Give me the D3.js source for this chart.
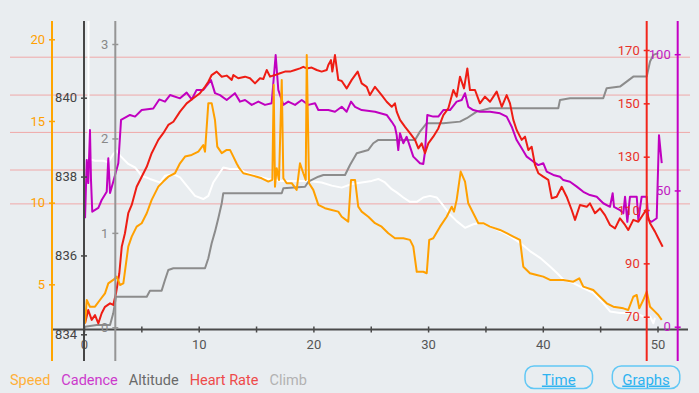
<!DOCTYPE html>
<html><head><meta charset="utf-8">
<script src="https://cdn.jsdelivr.net/npm/d3@7"></script>
<style>
html,body{margin:0;padding:0;background:#e9edf0;}
svg{display:block;font-family:Roboto,"Noto Sans",sans-serif;}
</style></head><body>
<svg id="c" width="699" height="393"></svg>
<script>
// ---- data (time in minutes, value) ----
const speed = [[0.09,2.61],[0.24,4.04],[0.52,3.63],[0.96,3.63],[1.39,4.04],[1.83,4.45],[2.12,5.06],[2.55,5.27],[2.85,5.47],[3.14,4.96],[3.43,5.06],[3.86,7.31],[4.16,7.92],[4.59,8.53],[5.03,8.74],[5.47,9.35],[5.9,10.17],[6.48,10.98],[6.91,11.29],[7.35,11.59],[7.93,11.8],[8.37,12.41],[8.81,12.82],[9.39,12.92],[9.97,13.12],[10.4,13.53],[10.55,13.12],[10.84,16.09],[11.13,16.09],[11.42,15.06],[11.62,13.43],[12.01,13.03],[12.44,13.23],[12.73,13.23],[13.02,12.82],[13.31,12.4],[13.54,12.11],[13.89,11.8],[14.47,11.7],[15.06,11.59],[15.49,11.49],[16.07,11.29],[16.42,11.39],[16.54,17.21],[16.65,10.98],[16.8,12.11],[17.0,11.39],[17.24,17.51],[17.38,11.49],[17.67,11.19],[18.11,11.19],[18.54,10.78],[18.83,12.41],[19.12,11.8],[19.33,11.39],[19.42,19.04],[19.62,11.19],[19.99,10.78],[20.43,9.86],[21.01,9.66],[21.6,9.55],[22.17,9.45],[22.47,9.14],[23.04,8.84],[23.28,11.39],[23.63,11.39],[23.91,9.76],[24.21,9.45],[24.79,9.14],[25.37,8.74],[25.95,8.53],[26.53,8.13],[27.11,7.82],[27.84,7.82],[28.42,7.72],[28.71,7.31],[29.01,5.77],[29.58,5.77],[29.88,5.68],[30.1,7.72],[30.45,7.82],[31.04,8.53],[31.62,9.14],[32.06,9.75],[32.26,9.45],[32.49,10.17],[32.84,11.9],[33.22,11.29],[33.5,9.96],[33.94,9.35],[34.38,8.74],[34.81,8.74],[35.4,8.53],[36.27,8.33],[36.85,8.13],[37.43,7.92],[38.01,7.72],[38.3,6.08],[38.88,5.68],[39.47,5.57],[40.04,5.47],[40.63,5.27],[41.79,5.27],[42.66,5.16],[43.18,5.37],[43.53,4.86],[44.4,4.65],[44.99,4.24],[45.57,3.84],[46.15,3.63],[47.02,3.53],[47.45,3.43],[47.89,4.24],[48.19,4.35],[48.41,3.53],[48.76,4.04],[49.06,4.55],[49.35,3.63],[49.78,3.33],[50.07,3.12],[50.37,2.82]];

const cadence = [[0.09,39.8],[0.24,61.2],[0.37,52.7],[0.52,72.2],[0.61,53.8],[0.72,42.2],[1.25,43.6],[1.54,46.5],[1.98,49.5],[2.12,61.8],[2.27,49.1],[2.55,53.2],[2.99,60.0],[3.23,75.9],[4.01,77.7],[4.45,77.1],[5.03,79.5],[6.04,80.1],[6.56,83.4],[7.06,82.6],[7.5,85.0],[8.37,83.8],[8.95,85.9],[9.39,83.4],[9.82,86.9],[10.4,86.9],[11.07,90.5],[11.42,85.7],[11.86,85.0],[12.44,83.2],[13.16,85.7],[13.6,82.6],[14.04,83.2],[14.62,81.4],[15.2,82.6],[15.78,81.4],[16.36,82.0],[16.71,99.7],[16.94,86.9],[17.38,81.4],[17.81,82.6],[18.4,81.4],[18.98,83.2],[19.56,81.4],[20.14,82.0],[20.43,79.5],[21.3,79.5],[21.88,78.9],[22.47,80.7],[22.9,78.9],[23.28,82.6],[23.63,80.7],[24.21,79.5],[25.37,78.9],[26.39,77.7],[26.83,75.2],[27.11,73.4],[27.26,70.3],[27.4,64.8],[27.55,71.0],[27.84,67.3],[28.13,69.7],[28.42,66.1],[28.71,62.4],[29.29,60.0],[29.58,59.7],[29.73,64.2],[29.93,77.7],[30.45,77.1],[30.89,77.1],[31.33,79.5],[31.91,79.5],[32.49,82.6],[32.93,83.2],[33.22,85.7],[33.5,80.7],[33.94,79.5],[34.52,78.9],[35.4,78.9],[36.27,78.3],[36.85,77.1],[37.29,73.4],[37.72,68.5],[38.16,65.5],[38.6,62.4],[39.17,60.6],[39.61,59.3],[40.04,60.0],[40.34,56.9],[40.92,55.7],[41.5,55.0],[41.79,53.8],[42.37,53.2],[42.96,51.4],[43.53,49.5],[44.11,48.3],[44.7,47.7],[45.27,45.3],[45.86,44.0],[46.09,49.0],[46.21,44.0],[46.73,42.8],[47.02,41.6],[47.17,47.7],[47.37,38.5],[47.6,47.7],[48.19,47.7],[48.33,39.2],[48.62,47.7],[49.06,47.7],[49.2,39.2],[49.49,38.5],[49.93,39.8],[50.13,70.3],[50.37,60.0]];

const heartRate = [[0.09,67.5],[0.37,72.5],[0.67,68.8],[0.96,70.6],[1.25,67.5],[1.54,71.3],[1.83,73.7],[2.27,75.0],[2.55,74.4],[2.79,78.8],[3.08,86.3],[3.29,96.2],[3.57,101.3],[3.86,108.8],[4.16,111.9],[4.59,118.7],[5.03,122.5],[5.47,126.2],[5.9,131.3],[6.48,136.3],[6.91,138.8],[7.35,141.9],[7.79,143.1],[8.37,146.9],[8.95,150.0],[9.53,151.9],[10.11,153.8],[10.55,156.2],[10.84,158.1],[11.13,160.6],[11.57,161.9],[12.01,160.0],[12.44,160.4],[12.88,158.8],[13.02,160.6],[13.45,159.4],[14.04,160.0],[14.47,159.4],[14.91,157.5],[15.34,159.4],[15.63,159.1],[15.93,162.5],[16.22,160.0],[16.65,160.6],[17.09,161.3],[17.52,161.9],[17.96,161.9],[18.4,162.5],[18.83,163.1],[19.12,163.7],[19.42,163.1],[19.85,163.4],[20.29,162.5],[20.72,161.9],[21.16,162.5],[21.3,164.4],[21.53,166.2],[21.65,161.9],[21.88,168.1],[22.17,158.8],[22.47,158.4],[22.9,155.6],[23.34,158.8],[23.86,161.9],[24.21,157.5],[24.65,156.2],[24.93,153.1],[25.37,156.2],[25.95,153.1],[26.39,150.6],[26.83,148.7],[27.11,150.0],[27.26,146.9],[27.55,143.8],[27.99,141.2],[28.42,138.8],[28.86,136.3],[29.15,133.1],[29.44,135.0],[29.73,131.3],[30.02,135.0],[30.45,137.5],[30.89,140.6],[31.33,145.6],[31.76,148.1],[32.2,155.0],[32.49,152.5],[32.78,160.0],[33.13,155.6],[33.42,163.1],[33.65,155.0],[34.09,155.0],[34.52,150.0],[34.96,152.5],[35.4,150.6],[35.98,154.4],[36.42,148.7],[36.85,153.1],[37.14,150.0],[37.43,143.8],[37.72,140.0],[38.16,136.3],[38.45,137.5],[38.74,132.5],[39.03,133.7],[39.32,126.9],[39.61,123.8],[40.04,122.5],[40.48,121.3],[40.78,114.4],[41.21,115.0],[41.65,118.7],[42.08,115.0],[42.52,110.0],[42.81,106.3],[43.24,111.9],[43.83,111.2],[44.11,112.5],[44.55,108.8],[44.99,110.6],[45.42,108.1],[45.86,104.4],[46.3,103.1],[46.73,106.9],[47.17,104.4],[47.45,102.5],[47.89,106.3],[48.33,105.6],[48.62,107.5],[49.0,110.0],[49.35,105.0],[49.78,101.9],[50.07,99.4],[50.45,96.2]];

const altitude = [[0.39,843.5],[0.39,838.45],[0.96,838.4],[1.68,838.4],[2.12,838.36],[2.55,838.57],[2.85,838.66],[3.14,838.53],[3.86,838.32],[4.45,838.23],[5.03,838.02],[5.75,837.94],[6.63,837.85],[7.06,838.02],[7.79,838.06],[8.37,837.98],[8.95,837.77],[9.68,837.51],[10.4,837.43],[10.84,837.51],[11.27,837.85],[12.14,838.23],[12.73,838.19],[13.6,838.19],[14.04,838.11],[14.91,838.02],[16.07,837.94],[17.24,837.89],[18.4,837.89],[19.56,837.89],[20.72,837.85],[21.6,837.77],[22.47,837.72],[23.34,837.81],[24.21,837.85],[25.08,837.89],[25.66,837.94],[26.24,837.85],[26.83,837.68],[27.26,837.6],[27.84,837.47],[28.42,837.36],[29.01,837.36],[29.58,837.47],[30.17,837.51],[30.75,837.47],[31.33,837.26],[31.91,837.04],[32.49,836.87],[33.22,836.7],[33.94,836.79],[34.67,836.83],[35.4,836.74],[36.27,836.62],[37.14,836.49],[38.01,836.32],[38.88,836.11],[39.76,835.94],[40.63,835.72],[41.21,835.56],[41.79,835.39],[42.66,835.3],[43.53,835.17],[44.4,835.05],[45.27,834.79],[45.86,834.58],[46.73,834.54],[47.6,834.54],[48.47,834.49],[49.06,834.41],[49.35,834.45],[49.64,834.28],[49.78,834.42]];

const climb = [[0.09,0.006],[1.11,0.024],[2.27,0.024],[2.55,0.148],[2.79,0.324],[5.47,0.324],[5.75,0.388],[6.77,0.388],[7.06,0.501],[7.35,0.607],[7.79,0.625],[10.55,0.625],[10.84,0.731],[11.13,0.89],[11.42,1.013],[11.71,1.155],[12.01,1.314],[12.14,1.419],[17.24,1.419],[17.38,1.472],[19.27,1.489],[19.56,1.542],[20.43,1.595],[20.87,1.613],[22.76,1.613],[23.19,1.719],[23.78,1.843],[24.79,1.878],[25.22,1.949],[25.66,1.984],[28.86,1.984],[29.29,2.072],[29.88,2.161],[31.33,2.161],[32.78,2.178],[33.37,2.214],[34.24,2.284],[35.4,2.32],[41.35,2.32],[41.5,2.408],[42.37,2.426],[45.27,2.426],[45.57,2.532],[46.73,2.549],[47.31,2.602],[47.89,2.655],[49.06,2.655],[49.35,2.814],[49.64,2.885],[50.07,2.903]];

const hrZones = [167.3, 153.1, 139.1, 125.0, 112.3];
const xTicks = [0,5,10,15,20,25,30,35,40,45,50];
const xLabels = [0,10,20,30,40,50];
const speedTicks = [5,10,15,20];
const altTicks = [834,836,838,840];
const climbTicks = [0,1,2,3];
const hrTicks = [70,90,110,130,150,170];
const cadTicks = [0,50,100];
const legendItems = ["Speed","Cadence","Altitude","Heart Rate","Climb"];
const buttons = ["Time","Graphs"];

// ---- layout ----
const svg = d3.select("#c");
const plotTop = 21, plotBottom = 361;
const x = d3.scaleLinear().domain([0,50]).range([84,657.5]);
const ySpeed = d3.scaleLinear().domain([0,20]).range([366,39.3]);
const yAlt = d3.scaleLinear().domain([834,840]).range([334.3,97.7]);
const yClimb = d3.scaleLinear().domain([0,3]).range([327.3,44]);
const yHr = d3.scaleLinear().domain([70,170]).range([316.7,50]);
const yCad = d3.scaleLinear().domain([0,100]).range([326.7,54.2]);

const col = {speed:"#ffa000", cad:"#c000c0", alt:"#ffffff", hr:"#ee1d14", climb:"#8c8c8c"};

// grid (heart-rate zones)
svg.append("g").selectAll("line").data(hrZones).join("line")
  .attr("x1",10).attr("x2",690)
  .attr("y1",d=>yHr(d)).attr("y2",d=>yHr(d))
  .attr("stroke","#f0a8a8").attr("stroke-width",1);

// clip
svg.append("clipPath").attr("id","plot").append("rect")
  .attr("x",84).attr("y",plotTop).attr("width",610).attr("height",plotBottom-plotTop);

const lines = svg.append("g").attr("clip-path","url(#plot)");
function drawLine(data, ys, color, w){
  lines.append("path").datum(data)
    .attr("d", d3.line().x(d=>x(d[0])).y(d=>ys(d[1])))
    .attr("fill","none").attr("stroke",color).attr("stroke-width",w)
    .attr("stroke-linejoin","round");
}
drawLine(altitude, yAlt, col.alt, 2);
drawLine(climb, yClimb, col.climb, 2);
drawLine(cadence, yCad, col.cad, 2);
drawLine(heartRate, yHr, col.hr, 2);
drawLine(speed, ySpeed, col.speed, 2);

// x axis
const xAxisY = 329.5;
svg.append("line").attr("x1",53).attr("x2",688).attr("y1",xAxisY).attr("y2",xAxisY)
  .attr("stroke","#4a4a4a").attr("stroke-width",2);
const xg = svg.append("g").attr("transform",`translate(0,${xAxisY})`)
  .call(d3.axisBottom(x).tickValues(xTicks).tickSize(0).tickFormat(d=> xLabels.includes(d)? d : "").tickPadding(10));
xg.select(".domain").remove();
xg.selectAll(".tick").append("line").attr("y1",-3).attr("y2",3).attr("stroke","#4a4a4a").attr("stroke-width",1.5);
xg.selectAll(".tick text").attr("fill","#555").attr("font-size",13).attr("font-family","Roboto");

// vertical axes
function vAxis(xPos, scale, ticks, lineColor, textColor){
  svg.append("line").attr("x1",xPos).attr("x2",xPos).attr("y1",plotTop).attr("y2",plotBottom)
    .attr("stroke",lineColor).attr("stroke-width",2);
  const g = svg.append("g").attr("transform",`translate(${xPos},0)`)
    .call(d3.axisLeft(scale).tickValues(ticks).tickSize(0).tickPadding(7).tickFormat(d3.format("d")));
  g.select(".domain").remove();
  g.selectAll(".tick").append("line").attr("x1",-3).attr("x2",3).attr("stroke",lineColor).attr("stroke-width",1.5);
  g.selectAll(".tick text").attr("fill",textColor).attr("font-size",13).attr("font-family","Roboto");
}
vAxis(52, ySpeed, speedTicks, "#ffa500", "#ffa000");
vAxis(84, yAlt, altTicks, "#464646", "#444");
vAxis(115.3, yClimb, climbTicks, "#959595", "#888");
vAxis(646.7, yHr, hrTicks, "#f2261c", "#e8322a");
vAxis(677.7, yCad, cadTicks, "#c400c4", "#c020c0");

// legend
const legendColors = ["#ffb03a","#cc3acc","#6a6a6a","#ee4a4a","#b2b2b2"];
let lx = 10;
const lg = svg.append("g").attr("font-size",14.5).attr("font-family","Roboto");
legendItems.forEach((t,i)=>{
  const tx = lg.append("text").attr("x",lx).attr("y",385.3).attr("fill",legendColors[i]).text(t);
  lx += tx.node().getComputedTextLength() + 11;
});

// buttons
const btnBox = [[525,67.5],[612.3,67.5]];
buttons.forEach((b,i)=>{
  const [bx,bw] = btnBox[i];
  svg.append("rect").attr("x",bx).attr("y",366).attr("width",bw).attr("height",22.5).attr("rx",9)
    .attr("fill","none").attr("stroke","#62c8f5").attr("stroke-width",1.5);
  svg.append("text").attr("x",bx+bw/2).attr("y",384.5).attr("text-anchor","middle")
    .attr("font-size",15).attr("font-family","Roboto").attr("fill","#2eb3f0")
    .attr("text-decoration","underline").text(b);
});
</script>
</body></html>
